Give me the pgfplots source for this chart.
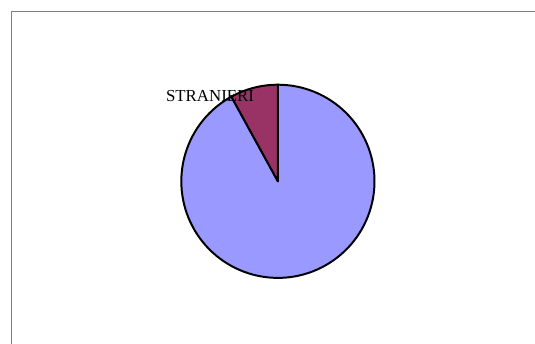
\documentclass[border=0pt]{standalone}
\usepackage{pgfplots}
\pgfplotsset{compat=1.18}
\usepackage{pgfplotstable}
\usepackage{fontspec}
\setmainfont{Liberation Serif}

\definecolor{italiani}{HTML}{9999FF}
\definecolor{stranieri}{HTML}{993366}
\definecolor{framegray}{HTML}{7F7F7F}

% shares in percent
\pgfplotstableread{
share label
92 ITALIANI
8 STRANIERI
}\piedata

\begin{document}
\pgfplotstablegetelem{1}{share}\of\piedata
\pgfmathsetmacro\angS{90+3.6*\pgfplotsretval}
\def\cx{275.5}\def\cy{164}\def\rr{97.5}
\begin{tikzpicture}
\begin{axis}[
  name=pie,
  width=535pt, height=347pt, scale only axis,
  xmin=0, xmax=535, ymin=0, ymax=347,
  hide axis, clip=true,
]
% outer frame of the chart area
\addplot[framegray, line width=1.2pt] coordinates {(7,0) (7,335) (535,335)};
% ITALIANI
\addplot[fill=italiani, draw=black, line width=2pt, line join=round,
  domain=\angS:450, samples=120, variable=\t]
  ({\cx+\rr*cos(\t)}, {\cy+\rr*sin(\t)}) -- (axis cs:\cx,\cy) -- cycle;
% STRANIERI
\addplot[fill=stranieri, draw=black, line width=2pt, line join=round,
  domain=90:\angS, samples=20, variable=\t]
  ({\cx+\rr*cos(\t)}, {\cy+\rr*sin(\t)}) -- (axis cs:\cx,\cy) -- cycle;
\node[anchor=base, font=\fontsize{17}{20}\selectfont, inner sep=0pt]
  at (axis cs:207,245) {STRANIERI};
\end{axis}
\pgfresetboundingbox
\useasboundingbox (pie.south west) rectangle (pie.north east);
\end{tikzpicture}
\end{document}
